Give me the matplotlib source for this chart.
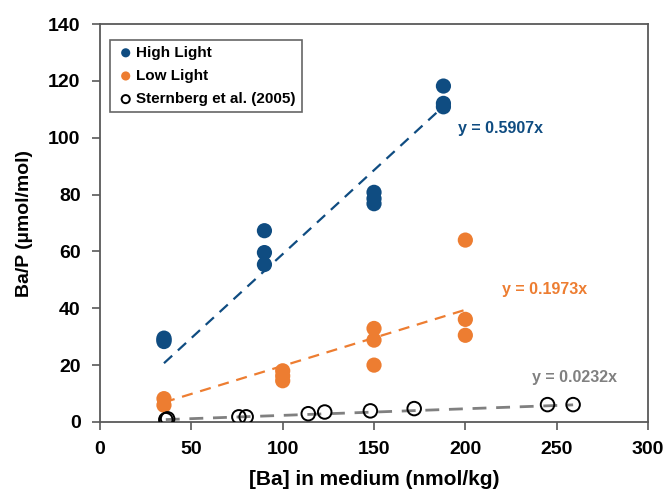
import numpy as np
import matplotlib
matplotlib.use("Agg")
import matplotlib.pyplot as plt

plt.rcParams['font.family'] = ['Liberation Sans', 'DejaVu Sans']
plt.rcParams['font.weight'] = 'bold'

# data
high_x = [35, 35, 35, 90, 90, 90, 150, 150, 150, 188, 188, 188]
high_y = [29.5, 28.3, 28.9, 67.3, 59.6, 55.4, 80.8, 78.6, 76.8, 118.2, 112.1, 110.9]

low_x = [35, 35, 100, 100, 100, 150, 150, 150, 200, 200, 200]
low_y = [8.2, 5.9, 18.0, 16.2, 14.5, 32.9, 28.8, 20.0, 64.0, 36.1, 30.5]

stern_x = [36, 37, 76, 80, 114, 123, 148, 172, 245, 259]
stern_y = [0.8, 1.1, 1.8, 1.8, 2.9, 3.5, 3.9, 4.7, 6.1, 6.1]

slope_high = 0.5907
slope_low = 0.1973
slope_stern = 0.0232

blue = '#0F4C81'
orange = '#ED7D31'
gray = '#808080'

fig = plt.figure(figsize=(6.67, 4.97), dpi=100)
ax = fig.add_axes([0.150, 0.151, 0.8215, 0.8005])

# trend lines (through origin), drawn over the range of each series
for xs, k, c, lw, dash in [(high_x, slope_high, blue, 1.6, (5, 3.5)),
                           (low_x, slope_low, orange, 1.6, (5, 3.5)),
                           (stern_x, slope_stern, gray, 2.0, (5, 3.5))]:
    xl = np.array([min(xs), max(xs)])
    ax.plot(xl, k * xl, color=c, lw=lw, dashes=dash, zorder=2)

ax.scatter(high_x, high_y, s=120, color=blue, edgecolors='none', zorder=3, label='High Light')
ax.scatter(low_x, low_y, s=120, color=orange, edgecolors='none', zorder=3, label='Low Light')
ax.scatter(stern_x, stern_y, s=95, facecolors='none', edgecolors='black', linewidths=1.4,
           zorder=4, label='Sternberg et al. (2005)')

ax.text(196, 103.4, 'y = 0.5907x', color=blue, fontsize=11.5, fontweight='bold', va='center')
ax.text(220, 46.7, 'y = 0.1973x', color=orange, fontsize=11.5, fontweight='bold', va='center')
ax.text(236.4, 15.7, 'y = 0.0232x', color=gray, fontsize=11.5, fontweight='bold', va='center')

ax.set_xlim(0, 300)
ax.set_ylim(0, 140)
ax.set_xticks(range(0, 301, 50))
ax.set_yticks(range(0, 141, 20))
ax.tick_params(direction='out', length=6, width=1.2, color='#595959', labelsize=14, pad=8)
for lab in ax.get_xticklabels() + ax.get_yticklabels():
    lab.set_fontweight('bold')
for sp in ax.spines.values():
    sp.set_color('#595959')
    sp.set_linewidth(1.3)

ax.set_xlabel('[Ba] in medium (nmol/kg)', fontsize=15, fontweight='bold', labelpad=8)
ax.set_ylabel('Ba/P (µmol/mol)', fontsize=14, fontweight='bold', labelpad=11)

leg = ax.legend(loc='upper left', bbox_to_anchor=(0.005, 0.98), markerscale=0.6,
                fontsize=11, frameon=True, fancybox=False, edgecolor='#404040',
                handletextpad=0.1, borderpad=0.4, labelspacing=0.6, handlelength=1.2)
leg.get_frame().set_linewidth(1.2)
for t in leg.get_texts():
    t.set_fontweight('bold')

fig.savefig('out.png', dpi=100)
